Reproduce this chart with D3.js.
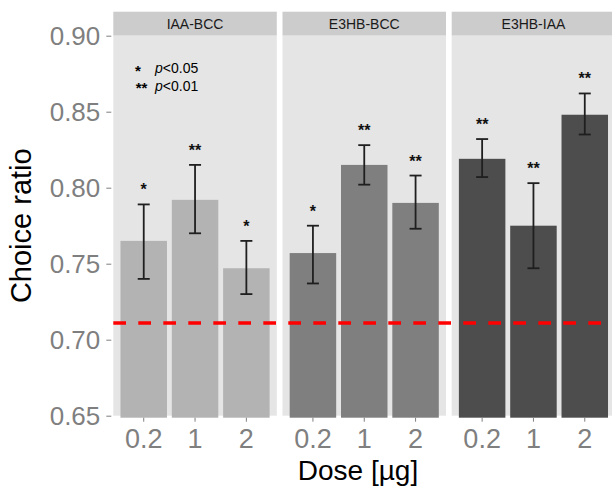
<!DOCTYPE html>
<html>
<head>
<meta charset="utf-8">
<script src="https://cdn.jsdelivr.net/npm/d3@7"></script>
<style>
  body { margin: 0; background: #fff; }
  svg text { font-family: "Liberation Sans", Arial, Helvetica, sans-serif; }
</style>
</head>
<body>
<div id="chart"></div>
<script>
var width = 612,
    height = 488;

// facets and doses
var groups = ['IAA-BCC', 'E3HB-BCC', 'E3HB-IAA'];
var doses = ['0.2', '1', '2'];

// mean choice ratio per group, one value per dose
var meanIAA_BCC = [0.765, 0.792, 0.747];
var meanE3HB_BCC = [0.757, 0.815, 0.790];
var meanE3HB_IAA = [0.819, 0.775, 0.848];

// error bar limits
var lowIAA_BCC = [0.740, 0.770, 0.730];
var highIAA_BCC = [0.789, 0.815, 0.765];
var lowE3HB_BCC = [0.737, 0.802, 0.773];
var highE3HB_BCC = [0.775, 0.828, 0.808];
var lowE3HB_IAA = [0.807, 0.747, 0.835];
var highE3HB_IAA = [0.832, 0.803, 0.862];

// significance marks
var sigIAA_BCC = ['*', '**', '*'];
var sigE3HB_BCC = ['*', '**', '**'];
var sigE3HB_IAA = ['**', '**', '**'];

var chanceLevel = 0.711;
var yTicks = [0.65, 0.70, 0.75, 0.80, 0.85, 0.90];

var groupFill = ['#b3b3b3', '#7f7f7f', '#4d4d4d'];

var rows = [
    { group: groups[0], mean: meanIAA_BCC, low: lowIAA_BCC, high: highIAA_BCC, sig: sigIAA_BCC },
    { group: groups[1], mean: meanE3HB_BCC, low: lowE3HB_BCC, high: highE3HB_BCC, sig: sigE3HB_BCC },
    { group: groups[2], mean: meanE3HB_IAA, low: lowE3HB_IAA, high: highE3HB_IAA, sig: sigE3HB_IAA }
];

var plot_top = 35.7,
    plot_bottom = 415.7,
    strip_h = 24,
    panel_left = 113.3,
    panel_w = 163.5,
    panel_gap = 5.7;

var y = d3.scaleLinear()
    .domain([0.65, 0.90])
    .range([plot_bottom, plot_top]);

var fx = d3.scaleBand()
    .domain(groups)
    .range([panel_left, panel_left + 3 * panel_w + 2 * panel_gap])
    .paddingInner(panel_gap / (panel_w + panel_gap));

var x = d3.scaleBand()
    .domain(doses)
    .range([0, fx.bandwidth()])
    .paddingInner(0.094)
    .paddingOuter(0.14);

var svg = d3.select('#chart').append('svg')
    .attr('width', width)
    .attr('height', height);

var panel = svg.selectAll('.panel').data(rows)
    .enter().append('g')
    .attr('class', 'panel')
    .attr('transform', function(d) {
        return 'translate(' + fx(d.group) + ',0)';
    });

// strip
panel.append('rect')
    .attr('x', 0)
    .attr('y', plot_top - strip_h)
    .attr('width', fx.bandwidth())
    .attr('height', strip_h)
    .attr('fill', '#cccccc');

panel.append('text')
    .attr('x', fx.bandwidth() / 2)
    .attr('y', plot_top - strip_h / 2)
    .attr('dy', '0.35em')
    .attr('text-anchor', 'middle')
    .attr('font-size', 14)
    .attr('fill', '#1a1a1a')
    .text(function(d) { return d.group; });

// panel background
panel.append('rect')
    .attr('x', 0)
    .attr('y', plot_top)
    .attr('width', fx.bandwidth())
    .attr('height', plot_bottom - plot_top)
    .attr('fill', '#e5e5e5');

// bars
panel.each(function(d, gi) {
    var g = d3.select(this);
    var items = doses.map(function(dose, i) {
        return { dose: dose, mean: d.mean[i], low: d.low[i], high: d.high[i], sig: d.sig[i] };
    });

    g.selectAll('.bar').data(items)
        .enter().append('rect')
        .attr('class', 'bar')
        .attr('x', function(e) { return x(e.dose); })
        .attr('y', function(e) { return y(e.mean); })
        .attr('width', x.bandwidth())
        .attr('height', function(e) { return y(0.65) + 2 - y(e.mean); })
        .attr('fill', groupFill[gi]);

    var eb = g.selectAll('.errbar').data(items)
        .enter().append('g')
        .attr('class', 'errbar')
        .attr('stroke', '#1f1f1f')
        .attr('stroke-width', 1.8);

    eb.append('line')
        .attr('x1', function(e) { return x(e.dose) + x.bandwidth() / 2; })
        .attr('x2', function(e) { return x(e.dose) + x.bandwidth() / 2; })
        .attr('y1', function(e) { return y(e.low); })
        .attr('y2', function(e) { return y(e.high); });
    eb.append('line')
        .attr('x1', function(e) { return x(e.dose) + x.bandwidth() / 2 - 6; })
        .attr('x2', function(e) { return x(e.dose) + x.bandwidth() / 2 + 6; })
        .attr('y1', function(e) { return y(e.high); })
        .attr('y2', function(e) { return y(e.high); });
    eb.append('line')
        .attr('x1', function(e) { return x(e.dose) + x.bandwidth() / 2 - 6; })
        .attr('x2', function(e) { return x(e.dose) + x.bandwidth() / 2 + 6; })
        .attr('y1', function(e) { return y(e.low); })
        .attr('y2', function(e) { return y(e.low); });

    g.selectAll('.sig').data(items)
        .enter().append('text')
        .attr('class', 'sig')
        .attr('x', function(e) { return x(e.dose) + x.bandwidth() / 2; })
        .attr('y', function(e) { return y(e.high) - 9; })
        .attr('text-anchor', 'middle')
        .attr('font-size', 16)
        .attr('font-weight', 'bold')
        .attr('fill', '#111')
        .text(function(e) { return e.sig; });

    // x axis per panel
    var xa = g.append('g')
        .attr('transform', 'translate(0,' + plot_bottom + ')')
        .call(d3.axisBottom(x).tickSize(6).tickPadding(7));
    xa.select('.domain').remove();
    xa.selectAll('.tick line').attr('stroke', '#7f7f7f').attr('stroke-width', 1).attr('y1', 2);
    xa.selectAll('.tick text')
        .attr('font-size', 27)
        .attr('font-family', '"Liberation Sans", Arial, sans-serif')
        .attr('fill', '#7f7f7f');
});

// chance level
svg.append('line')
    .attr('x1', panel_left)
    .attr('x2', width)
    .attr('y1', y(chanceLevel))
    .attr('y2', y(chanceLevel))
    .attr('stroke', '#ff0000')
    .attr('stroke-width', 3.5)
    .attr('stroke-dasharray', '12.7,12.3');

// y axis
var ya = svg.append('g')
    .attr('transform', 'translate(' + (panel_left - 2) + ',0)')
    .call(d3.axisLeft(y).tickValues(yTicks).tickFormat(d3.format('.2f')).tickSize(5).tickPadding(6));
ya.select('.domain').remove();
ya.selectAll('.tick line').attr('stroke', '#7f7f7f');
ya.selectAll('.tick text')
    .attr('font-size', 26)
    .attr('font-family', '"Liberation Sans", Arial, sans-serif')
    .attr('fill', '#7f7f7f');

// legend for stars
var legend = svg.append('g');
legend.append('text')
    .attr('x', 138).attr('y', 76)
    .attr('text-anchor', 'middle')
    .attr('font-size', 15).attr('font-weight', 'bold')
    .text('*');
legend.append('text')
    .attr('x', 141.5).attr('y', 93)
    .attr('text-anchor', 'middle')
    .attr('font-size', 15).attr('font-weight', 'bold')
    .text('**');
var l1 = legend.append('text').attr('x', 155).attr('y', 73.3).attr('font-size', 14);
l1.append('tspan').attr('font-style', 'italic').text('p');
l1.append('tspan').text('<0.05');
var l2 = legend.append('text').attr('x', 155).attr('y', 90.7).attr('font-size', 14);
l2.append('tspan').attr('font-style', 'italic').text('p');
l2.append('tspan').text('<0.01');

// axis titles
svg.append('text')
    .attr('transform', 'translate(31,' + ((plot_top + plot_bottom) / 2) + ') rotate(-90)')
    .attr('text-anchor', 'middle')
    .attr('font-size', 29)
    .attr('fill', '#000')
    .text('Choice ratio');

svg.append('text')
    .attr('x', 358)
    .attr('y', 480)
    .attr('text-anchor', 'middle')
    .attr('font-size', 28)
    .attr('fill', '#000')
    .text('Dose [µg]');
</script>
</body>
</html>
